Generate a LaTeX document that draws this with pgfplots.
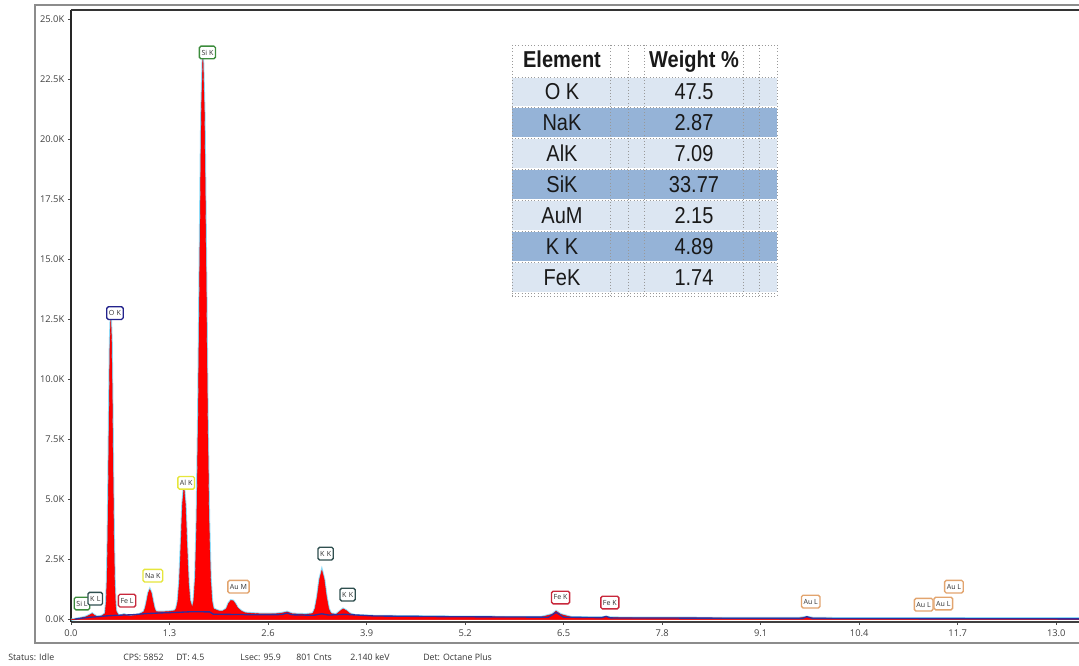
\documentclass[border=0pt]{standalone}
\usepackage{pgfplots}
\usepackage{pgfplotstable}
\usepackage{graphicx}
\pgfplotsset{compat=1.18}
\usepackage{fontspec}
\setmainfont{Open Sans}
\newfontfamily\arialfont{Liberation Sans}
\definecolor{lblgreen}{HTML}{3C8C3C}
\definecolor{lblslate}{HTML}{2F4F4F}
\definecolor{lblnavy}{HTML}{23238C}
\definecolor{lblred}{HTML}{C8283C}
\definecolor{lblyellow}{HTML}{E6E63C}
\definecolor{lbltan}{HTML}{E2A46E}
\definecolor{rowlight}{HTML}{DCE6F2}
\definecolor{rowdark}{HTML}{95B3D7}
\definecolor{bgblue}{HTML}{2E2E9E}
\tikzset{label box/.style={draw=#1, rounded corners=1.2pt, line width=1pt, fill=white,
    inner xsep=1.6pt, inner ysep=0pt, minimum height=9.5pt,
    font=\fontsize{5.3}{6}\selectfont, text=black!80}}

\pgfplotstableread{
x y
0.00 0.00
0.05 0.02
0.10 0.05
0.15 0.08
0.20 0.12
0.25 0.20
0.28 0.25
0.31 0.18
0.35 0.12
0.40 0.14
0.45 0.25
0.465 0.73
0.475 1.58
0.485 3.28
0.495 5.88
0.505 8.98
0.515 11.58
0.525 12.50
0.535 11.58
0.545 8.98
0.555 5.88
0.565 3.28
0.575 1.58
0.585 0.73
0.595 0.35
0.62 0.20
0.65 0.15
0.70 0.22
0.73 0.18
0.78 0.15
0.85 0.18
0.90 0.22
0.96 0.32
0.98 0.48
1.00 0.77
1.02 1.10
1.04 1.25
1.06 1.10
1.08 0.77
1.10 0.48
1.12 0.33
1.20 0.32
1.30 0.34
1.37 0.37
1.39 0.47
1.41 0.76
1.43 1.56
1.45 3.06
1.47 4.76
1.49 5.53
1.51 4.76
1.53 3.06
1.55 1.56
1.57 0.80
1.60 0.50
1.62 0.79
1.64 1.76
1.66 4.20
1.68 8.70
1.70 15.1
1.72 21.0
1.74 23.5
1.76 21.0
1.78 15.1
1.80 8.70
1.82 4.20
1.84 1.76
1.86 0.77
1.88 0.45
1.95 0.36
2.00 0.35
2.05 0.45
2.08 0.68
2.11 0.80
2.14 0.78
2.17 0.65
2.20 0.48
2.25 0.35
2.30 0.28
2.50 0.24
2.70 0.24
2.80 0.28
2.85 0.32
2.92 0.24
3.10 0.22
3.19 0.25
3.22 0.45
3.25 0.96
3.28 1.68
3.31 2.05
3.34 1.68
3.37 0.96
3.40 0.45
3.43 0.25
3.50 0.22
3.55 0.35
3.59 0.45
3.63 0.38
3.68 0.25
3.75 0.18
4.00 0.15
5.00 0.12
6.20 0.10
6.35 0.22
6.40 0.35
6.46 0.22
6.60 0.10
7.00 0.08
7.06 0.12
7.12 0.08
8.00 0.07
9.60 0.06
9.71 0.11
9.80 0.06
11.0 0.05
13.3 0.05
}\spec

\pgfplotstableread{
x y
0.05 0.02
0.15 0.06
0.25 0.10
0.35 0.12
0.45 0.15
0.60 0.18
0.80 0.20
1.00 0.25
1.20 0.28
1.40 0.30
1.60 0.33
1.83 0.32
1.88 0.22
2.00 0.22
2.50 0.20
2.78 0.21
2.85 0.27
2.92 0.20
3.20 0.18
3.31 0.24
3.40 0.19
3.60 0.22
4.00 0.15
5.00 0.12
6.30 0.10
6.40 0.30
6.50 0.10
7.00 0.08
7.06 0.13
7.12 0.07
9.65 0.05
9.71 0.12
9.78 0.05
13.3 0.03
}\bgline

\begin{document}
\begin{tikzpicture}
\begin{axis}[
  at={(53.25pt,33pt)}, anchor=south west,
  width=756pt, height=459pt, scale only axis,
  xmin=0, xmax=13.3, ymin=-0.1, ymax=25.4,
  axis lines*=left,
  x axis line style={black!75, line width=1.2pt},
  y axis line style={black!85, line width=1.8pt},
  xtick={0,1.3,2.6,3.9,5.2,6.5,7.8,9.1,10.4,11.7,13.0},
  xticklabels={0.0,1.3,2.6,3.9,5.2,6.5,7.8,9.1,10.4,11.7,13.0},
  ytick={0,2.5,5,7.5,10,12.5,15,17.5,20,22.5,25},
  yticklabels={0.0K,2.5K,5.0K,7.5K,10.0K,12.5K,15.0K,17.5K,20.0K,22.5K,25.0K},
  tick label style={font=\fontsize{7}{8}\selectfont, text=black!75},
  yticklabel style={xshift=0.5pt},
  tick align=outside, major tick length=2pt,
  tick style={black!70, line width=0.5pt},
  clip mode=individual,
]
\addplot[cyan!55, line width=1.8pt, opacity=0.8] table {\spec};
\addplot[fill=red, draw=red!90!black, line width=0.3pt] table {\spec} \closedcycle;
\addplot[bgblue, line width=1pt] table {\bgline};
\draw[black!80, line width=1pt] (rel axis cs:0,1) -- (rel axis cs:1,1);

\node[label box=lblgreen] at (axis cs:0.145,0.67) {Si L};
\node[label box=lblslate] at (axis cs:0.32,0.87) {K\,\,L};
\node[label box=lblnavy] at (axis cs:0.58,12.77) {O\,\,K};
\node[label box=lblred] at (axis cs:0.74,0.79) {Fe L};
\node[label box=lblyellow] at (axis cs:1.08,1.83) {Na K};
\node[label box=lblyellow] at (axis cs:1.52,5.70) {Al K};
\node[label box=lblgreen] at (axis cs:1.80,23.63) {Si K};
\node[label box=lbltan] at (axis cs:2.21,1.37) {Au M};
\node[label box=lblslate] at (axis cs:3.36,2.75) {K\,\,K};
\node[label box=lblslate] at (axis cs:3.65,1.04) {K\,\,K};
\node[label box=lblred] at (axis cs:6.46,0.92) {Fe K};
\node[label box=lblred] at (axis cs:7.11,0.71) {Fe K};
\node[label box=lbltan] at (axis cs:9.76,0.75) {Au L};
\node[label box=lbltan] at (axis cs:11.25,0.62) {Au L};
\node[label box=lbltan] at (axis cs:11.51,0.67) {Au L};
\node[label box=lbltan] at (axis cs:11.65,1.37) {Au L};
\end{axis}

\begin{scope}[shift={(0pt,499.5pt)}, x=0.75pt, y=-0.75pt]
  % outer frame
  \draw[black!45, line width=0.9pt] (1100,5) -- (35,5) -- (35,643) -- (1100,643);
  % status bar
  \begin{scope}[every node/.style={anchor=west, inner sep=0pt, font=\fontsize{6.6}{7}\selectfont, text=black!80}]
    \node at (8,657) {Status: Idle};
    \node at (123,657) {CPS: 5852};
    \node at (176,657) {DT: 4.5};
    \node at (240,657) {Lsec: 95.9};
    \node at (296,657) {801 Cnts};
    \node at (350,657) {2.140 keV};
    \node at (423,657) {Det: Octane Plus};
  \end{scope}
  % table
  \fill[white] (512,45) rectangle (777,296);
  \fill[rowlight] (512,78) rectangle (777,106);
  \fill[rowdark] (512,108) rectangle (777,137);
  \fill[rowlight] (512,139) rectangle (777,168);
  \fill[rowdark] (512,170) rectangle (777,199);
  \fill[rowlight] (512,201) rectangle (777,230);
  \fill[rowdark] (512,232) rectangle (777,261);
  \fill[rowlight] (512,263) rectangle (777,292);
  \foreach \yy in {45,77,107,138,169,200,231,262,293,296}
    \draw[black!40, dotted, line width=0.4pt] (512,\yy) -- (777,\yy);
  \foreach \xx in {512,610,628,644,743,759,777}
    \draw[black!40, dotted, line width=0.4pt] (\xx,45) -- (\xx,296);
  \begin{scope}[every node/.style={inner sep=0pt, anchor=base, text=black!90}]
    \node at (562,68) {\arialfont\fontsize{15}{16}\selectfont\bfseries\scalebox{1}[1.15]{Element}};
    \node at (694,68) {\arialfont\fontsize{15}{16}\selectfont\bfseries\scalebox{1}[1.15]{Weight \%}};
    \foreach \yy/\el/\val in {100/O K/47.5, 130.5/NaK/2.87, 161.5/AlK/7.09, 192.5/SiK/33.77, 223.5/AuM/2.15, 254.5/K K/4.89, 285.5/FeK/1.74}{
      \node at (562,\yy) {\arialfont\fontsize{15}{16}\selectfont\scalebox{1}[1.15]{\el}};
      \node at (694,\yy) {\arialfont\fontsize{15}{16}\selectfont\scalebox{1}[1.15]{\val}};
    }
  \end{scope}
\end{scope}
\pgfresetboundingbox
\path (0pt,0pt) rectangle (809.25pt,499.5pt);
\end{tikzpicture}
\end{document}
